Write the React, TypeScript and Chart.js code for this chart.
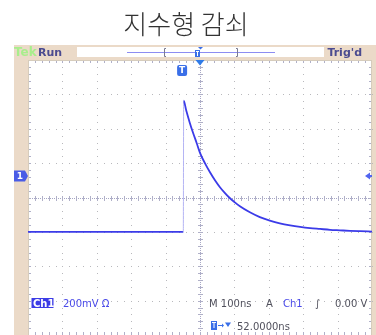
import React, { useEffect, useRef } from 'react';
import { Chart, registerables } from 'chart.js';

Chart.register(...registerables);

// ---- data ----
const TITLE = '지수형 감쇠';
const timeNs = [
  -500, -48.5, -47.5, -40, -30, -20, -10, 0, 15, 29, 44, 58, 72, 85, 100, 116,
  145, 174, 203, 232, 262, 291, 320, 349, 378, 407, 436, 465, 500,
];
const volts = [
  -0.2, -0.2, 0.563, 0.506, 0.437, 0.375, 0.319, 0.26, 0.197, 0.147, 0.099, 0.06, 0.027, 0.0, -0.026, -0.051,
  -0.086, -0.114, -0.134, -0.15, -0.162, -0.171, -0.178, -0.183, -0.188, -0.191, -0.194, -0.196, -0.198,
];
const X_MIN = -500;
const X_MAX = 500;
const X_DIV = 100;
const Y_MIN = -0.8;
const Y_MAX = 0.8;
const Y_DIV = 0.2;
const GROUND_LEVEL = 0.125;
const TRIG_LEVEL = 0.125;
const TRIG_POS = 0;
const TRIG_MARK = -52;

const TEK = 'Tek';
const RUN = 'Run';
const TRIGD = "Trig'd";
const CH = 'Ch1';
const VSCALE = '200mV Ω';
const TIMEBASE = 'M 100ns';
const ACQ = 'A';
const SLOPE = '∫';
const TLEVEL = '0.00 V';
const TDELAY = '52.0000ns';

const BEIGE = '#ebdac8';
const TRACE = '#3b3be8';
const MARK = '#4a5ce6';
const FONT = "'DejaVu Sans', sans-serif";

const scopePlugin = {
  id: 'scopeDecor',
  beforeDraw(chart: any) {
    const { ctx, chartArea: ca } = chart;
    ctx.save();
    ctx.fillStyle = '#ffffff';
    ctx.fillRect(0, 0, chart.width, chart.height);
    // frame
    ctx.fillStyle = BEIGE;
    ctx.fillRect(14, 45, chart.width - 14, ca.top - 45);
    ctx.fillRect(14, 45, ca.left - 14, chart.height - 45);
    ctx.fillRect(ca.right, 45, chart.width - ca.right, chart.height - 45);
    // white record box
    ctx.fillStyle = '#ffffff';
    ctx.fillRect(77, 47, 247, 10);
    // record line
    ctx.strokeStyle = '#8c8cf2';
    ctx.lineWidth = 1;
    ctx.beginPath();
    ctx.moveTo(127, 52.5);
    ctx.lineTo(275, 52.5);
    ctx.stroke();
    // brackets
    ctx.strokeStyle = '#7a7a90';
    ctx.beginPath();
    ctx.moveTo(166, 48.5); ctx.lineTo(164.5, 48.5); ctx.lineTo(164.5, 56.5); ctx.lineTo(166, 56.5);
    ctx.moveTo(236, 48.5); ctx.lineTo(237.5, 48.5); ctx.lineTo(237.5, 56.5); ctx.lineTo(236, 56.5);
    ctx.stroke();
    // small T in record box
    ctx.fillStyle = '#3a6fe8';
    ctx.fillRect(195, 50, 5, 7);
    ctx.beginPath();
    ctx.moveTo(198, 47); ctx.lineTo(203, 47); ctx.lineTo(200.5, 49.5); ctx.closePath();
    ctx.fill();
    ctx.fillStyle = '#ffffff';
    ctx.fillRect(196, 51, 3, 1);
    ctx.fillRect(197, 51, 1, 5);
    // texts in bar
    ctx.textBaseline = 'alphabetic';
    ctx.font = `bold 12px ${FONT}`;
    ctx.fillStyle = '#a8ee8c';
    ctx.textAlign = 'left';
    ctx.fillText(TEK, 14, 56);
    ctx.fillStyle = '#4b4b90';
    ctx.font = `bold 11px ${FONT}`;
    ctx.fillText(RUN, 38, 56);
    ctx.textAlign = 'right';
    ctx.fillText(TRIGD, 362, 56);
    ctx.restore();
  },
  beforeDatasetsDraw(chart: any) {
    const { ctx, chartArea: ca, scales } = chart;
    const xs = scales.x;
    const ys = scales.y;
    ctx.save();
    const xMinor = X_DIV / 5;
    const yMinor = Y_DIV / 5;
    // dotted grid
    ctx.fillStyle = '#b8b8bc';
    for (let i = 1; i < (X_MAX - X_MIN) / X_DIV; i++) {
      const v = X_MIN + i * X_DIV;
      if (Math.abs(v) < 1e-9) continue;
      const px = Math.round(xs.getPixelForValue(v));
      const n = Math.round((Y_MAX - Y_MIN) / yMinor);
      for (let j = 0; j <= n; j++) {
        const py = Math.round(ys.getPixelForValue(Y_MIN + j * yMinor));
        ctx.fillRect(px, py, 1, 1);
      }
    }
    for (let i = 1; i < (Y_MAX - Y_MIN) / Y_DIV; i++) {
      const v = Y_MIN + i * Y_DIV;
      if (Math.abs(v) < 1e-9) continue;
      const py = Math.round(ys.getPixelForValue(v));
      const n = Math.round((X_MAX - X_MIN) / xMinor);
      for (let j = 0; j <= n; j++) {
        const px = Math.round(xs.getPixelForValue(X_MIN + j * xMinor));
        ctx.fillRect(px, py, 1, 1);
      }
    }
    // centre cross
    const cx = Math.round(xs.getPixelForValue(0)) + 0.5;
    const cy = Math.round(ys.getPixelForValue(0)) + 0.5;
    ctx.strokeStyle = '#a6a6c4';
    ctx.lineWidth = 1;
    ctx.setLineDash([1, 1]);
    ctx.beginPath();
    ctx.moveTo(cx, ca.top); ctx.lineTo(cx, ca.bottom);
    ctx.moveTo(ca.left, cy); ctx.lineTo(ca.right, cy);
    ctx.stroke();
    ctx.setLineDash([]);
    ctx.strokeStyle = '#b0b0c8';
    ctx.beginPath();
    const nx = Math.round((X_MAX - X_MIN) / xMinor);
    for (let j = 1; j < nx; j++) {
      const px = Math.round(xs.getPixelForValue(X_MIN + j * xMinor)) + 0.5;
      ctx.moveTo(px, cy - 2.5); ctx.lineTo(px, cy + 2.5);
      ctx.moveTo(px, ca.top); ctx.lineTo(px, ca.top + 3);
      ctx.moveTo(px, ca.bottom); ctx.lineTo(px, ca.bottom - 3);
    }
    const ny = Math.round((Y_MAX - Y_MIN) / yMinor);
    for (let j = 1; j < ny; j++) {
      const py = Math.round(ys.getPixelForValue(Y_MIN + j * yMinor)) + 0.5;
      ctx.moveTo(cx - 2.5, py); ctx.lineTo(cx + 2.5, py);
      ctx.moveTo(ca.left, py); ctx.lineTo(ca.left + 3, py);
      ctx.moveTo(ca.right, py); ctx.lineTo(ca.right - 3, py);
    }
    ctx.stroke();
    // border
    ctx.strokeStyle = '#d6ccbc';
    ctx.strokeRect(ca.left + 0.5, ca.top + 0.5, ca.right - ca.left - 1, ca.bottom - ca.top);
    ctx.restore();
  },
  afterDatasetsDraw(chart: any) {
    const { ctx, chartArea: ca, scales } = chart;
    const xs = scales.x;
    const ys = scales.y;
    ctx.save();
    // trigger position marker on top border
    const tx = xs.getPixelForValue(TRIG_POS);
    ctx.fillStyle = '#2f7be8';
    ctx.beginPath();
    ctx.moveTo(tx - 4.5, ca.top); ctx.lineTo(tx + 4.5, ca.top); ctx.lineTo(tx, ca.top + 5.5); ctx.closePath();
    ctx.fill();
    // T marker
    const mx = xs.getPixelForValue(TRIG_MARK);
    ctx.fillStyle = '#3a6fe8';
    ctx.beginPath();
    ctx.roundRect(mx - 5, ca.top + 5, 10, 11, 2);
    ctx.fill();
    ctx.fillStyle = '#ffffff';
    ctx.font = `bold 9px ${FONT}`;
    ctx.textAlign = 'center';
    ctx.textBaseline = 'middle';
    ctx.fillText('T', mx, ca.top + 11);
    // ground marker
    const gy = ys.getPixelForValue(GROUND_LEVEL);
    ctx.fillStyle = MARK;
    ctx.beginPath();
    ctx.moveTo(14, gy - 5.5); ctx.lineTo(25, gy - 5.5); ctx.lineTo(28, gy); ctx.lineTo(25, gy + 5.5); ctx.lineTo(14, gy + 5.5); ctx.closePath();
    ctx.fill();
    ctx.fillStyle = '#ffffff';
    ctx.font = `bold 9px ${FONT}`;
    ctx.fillText('1', 20, gy + 0.5);
    // trigger level marker
    const ly = ys.getPixelForValue(TRIG_LEVEL);
    ctx.fillStyle = '#5064f0';
    ctx.beginPath();
    ctx.moveTo(ca.right - 7, ly); ctx.lineTo(ca.right - 2, ly - 3.5); ctx.lineTo(ca.right - 2, ly + 3.5); ctx.closePath();
    ctx.fill();
    ctx.fillRect(ca.right - 2, ly - 1, 2, 2);
    // readouts
    ctx.textAlign = 'left';
    ctx.textBaseline = 'alphabetic';
    ctx.fillStyle = '#3c3ce6';
    ctx.fillRect(31.5, 298, 22, 10);
    ctx.font = `bold 10px ${FONT}`;
    ctx.fillStyle = '#ffffff';
    ctx.fillText(CH, 33, 307);
    ctx.fillStyle = '#4a4ae8';
    ctx.font = `10px ${FONT}`;
    ctx.fillText(VSCALE, 63, 307);
    ctx.fillStyle = '#50505c';
    ctx.fillText(TIMEBASE, 209, 307);
    ctx.fillText(ACQ, 266, 307);
    ctx.fillStyle = '#4a4ae8';
    ctx.fillText(CH, 283, 307);
    ctx.fillStyle = '#50505c';
    ctx.fillText(SLOPE, 315, 307);
    ctx.fillText(TLEVEL, 335, 307);
    // delay line
    ctx.fillStyle = '#3a6fe8';
    ctx.fillRect(211, 321, 6, 9);
    ctx.fillStyle = '#ffffff';
    ctx.fillRect(212, 322, 4, 1);
    ctx.fillRect(213.5, 322, 1, 6);
    ctx.fillStyle = '#3a6fe8';
    ctx.fillRect(218, 325, 4, 1);
    ctx.beginPath();
    ctx.moveTo(222, 323.5); ctx.lineTo(224, 325.5); ctx.lineTo(222, 327.5); ctx.closePath();
    ctx.fill();
    ctx.beginPath();
    ctx.moveTo(225, 322.5); ctx.lineTo(231, 322.5); ctx.lineTo(228, 327); ctx.closePath();
    ctx.fill();
    ctx.fillStyle = '#50505c';
    ctx.fillText(TDELAY, 237, 330);
    ctx.restore();
  },
};

export default function App() {
  const ref = useRef<HTMLCanvasElement | null>(null);
  useEffect(() => {
    if (!ref.current) return;
    const data = timeNs.map((t, i) => ({ x: t, y: volts[i] }));
    const chart = new Chart(ref.current, {
      type: 'line',
      data: {
        datasets: [
          {
            data,
            borderColor: TRACE,
            borderWidth: 1.8,
            pointRadius: 0,
            tension: 0.3,
            cubicInterpolationMode: 'monotone',
            fill: false,
            segment: {
              borderColor: (c: any) => (c.p1.parsed.y - c.p0.parsed.y > 0.3 ? '#b4b4f4' : TRACE),
              borderWidth: (c: any) => (c.p1.parsed.y - c.p0.parsed.y > 0.3 ? 1 : 1.8),
            },
          },
        ],
      },
      options: {
        animation: false,
        responsive: false,
        devicePixelRatio: 1,
        layout: { padding: { left: 0, right: 4, top: 0, bottom: 0 } },
        plugins: {
          legend: { display: false },
          tooltip: { enabled: false },
          title: {
            display: true,
            text: TITLE,
            color: '#333333',
            font: { family: "'Noto Sans CJK KR', sans-serif", size: 26, weight: '300', lineHeight: 1.2 },
            padding: { top: 8.4, bottom: 20.4 },
          },
        },
        scales: {
          x: { type: 'linear', min: X_MIN, max: X_MAX, display: false },
          y: {
            type: 'linear',
            min: Y_MIN,
            max: Y_MAX,
            display: true,
            ticks: { display: false },
            grid: { display: false },
            border: { display: false },
            afterFit: (s: any) => {
              s.width = 28;
            },
          },
        },
      },
      plugins: [scopePlugin],
    });
    return () => chart.destroy();
  }, []);
  return (
    <div style={{ position: 'absolute', left: 0, top: 0, width: 376, height: 335 }}>
      <canvas ref={ref} width={376} height={335} style={{ display: 'block' }} />
    </div>
  );
}
